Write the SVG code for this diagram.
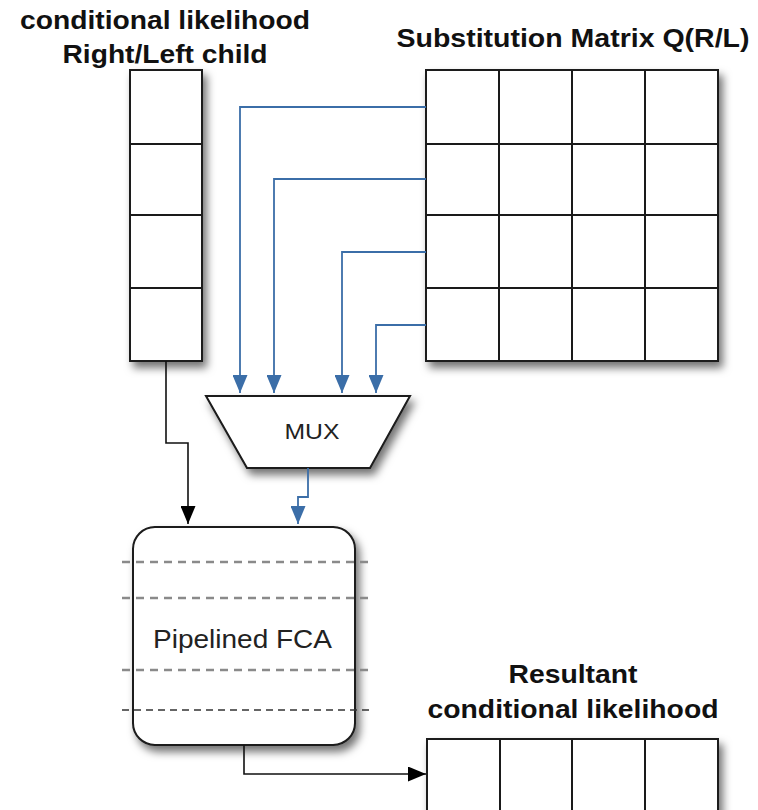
<svg xmlns="http://www.w3.org/2000/svg" width="758" height="810" viewBox="0 0 758 810">
  <defs>
    <filter id="shadow" x="-20%" y="-20%" width="150%" height="150%">
      <feDropShadow dx="4" dy="6" stdDeviation="4.5" flood-color="#000" flood-opacity="0.55"/>
    </filter>
    <marker id="arrowBlue" viewBox="0 0 18 15" markerUnits="userSpaceOnUse" markerWidth="18" markerHeight="15" refX="18" refY="7.5" orient="auto">
      <path d="M0,0 L18,7.5 L0,15 z" fill="#3b6ea8"/>
    </marker>
    <marker id="arrowBlack" viewBox="0 0 18 15" markerUnits="userSpaceOnUse" markerWidth="18" markerHeight="15" refX="18" refY="7.5" orient="auto">
      <path d="M0,0 L18,7.5 L0,15 z" fill="#000"/>
    </marker>
  </defs>
  <style>
    .cell { fill: #fff; stroke: #1a1a1a; stroke-width: 2; }
    .grid { fill: none; stroke: #1a1a1a; stroke-width: 2; }
    .title { font-family: "Liberation Sans", Arial, sans-serif; font-weight: bold; font-size: 25px; fill: #111; text-anchor: middle; }
    .label { font-family: "Liberation Sans", Arial, sans-serif; font-size: 22px; fill: #222; text-anchor: middle; }
    .label-big { font-size: 26px; }
    .blue { fill: none; stroke: #3b6ea8; stroke-width: 1.8; marker-end: url(#arrowBlue); }
    .black { fill: none; stroke: #111; stroke-width: 1.6; marker-end: url(#arrowBlack); }
    .stage { fill: none; stroke: #8a8a8a; stroke-width: 2.4; stroke-dasharray: 8 6; }
    .stage-last { fill: none; stroke: #333; stroke-width: 1.4; stroke-dasharray: 7 5; }
  </style>

  <!-- Child conditional likelihood vector -->
  <g id="child-vector">
    <rect class="cell" x="130" y="70" width="72" height="291" filter="url(#shadow)"/>
    <path class="grid" d="M130,144 H202 M130,215 H202 M130,288 H202"/>
    <text class="title" x="165" y="29" textLength="290" lengthAdjust="spacingAndGlyphs">conditional likelihood</text>
    <text class="title" x="165" y="63" textLength="205" lengthAdjust="spacingAndGlyphs">Right/Left child</text>
  </g>

  <!-- Substitution matrix -->
  <g id="substitution-matrix">
    <rect class="cell" x="426" y="70" width="292" height="291" filter="url(#shadow)"/>
    <path class="grid" d="M499,70 V361 M572,70 V361 M645,70 V361 M426,144 H718 M426,215 H718 M426,288 H718"/>
    <text class="title" x="573" y="47" textLength="353" lengthAdjust="spacingAndGlyphs">Substitution Matrix Q(R/L)</text>
  </g>

  <!-- Multiplexer -->
  <g id="mux">
    <polygon class="cell" points="206,396 410,396 370,468 247,468" filter="url(#shadow)"/>
    <text class="label" x="312" y="439" textLength="55" lengthAdjust="spacingAndGlyphs">MUX</text>
  </g>

  <!-- Pipelined FCA unit -->
  <g id="fca">
    <rect class="cell" x="133" y="527" width="222" height="218" rx="22" ry="22" filter="url(#shadow)"/>
    <text class="label label-big" x="242.5" y="648" textLength="179" lengthAdjust="spacingAndGlyphs">Pipelined FCA</text>
  </g>

  <!-- Resultant conditional likelihood vector -->
  <g id="result-vector">
    <rect class="cell" x="427" y="739" width="291" height="80" filter="url(#shadow)"/>
    <path class="grid" d="M500,739 V812 M572,739 V812 M645,739 V812"/>
    <text class="title" x="573" y="683" textLength="129" lengthAdjust="spacingAndGlyphs">Resultant</text>
    <text class="title" x="573" y="718" textLength="291" lengthAdjust="spacingAndGlyphs">conditional likelihood</text>
  </g>

  <!-- Connectors -->
  <g id="connectors">
    <path class="blue" d="M426,107 H240 V393"/>
    <path class="blue" d="M426,179 H274 V393"/>
    <path class="blue" d="M426,252 H342 V393"/>
    <path class="blue" d="M426,325 H376 V393"/>
    <path class="blue" d="M308,468 V497 H298 V524"/>
    <path class="black" d="M166,361 V443 H188 V524"/>
    <path class="black" d="M244,745 V774 H426"/>
    <line class="stage" x1="122" y1="562" x2="372" y2="562"/>
    <line class="stage" x1="122" y1="598" x2="372" y2="598"/>
    <line class="stage" x1="122" y1="670" x2="372" y2="670"/>
    <line class="stage-last" x1="122" y1="710" x2="372" y2="710"/>
  </g>
</svg>
